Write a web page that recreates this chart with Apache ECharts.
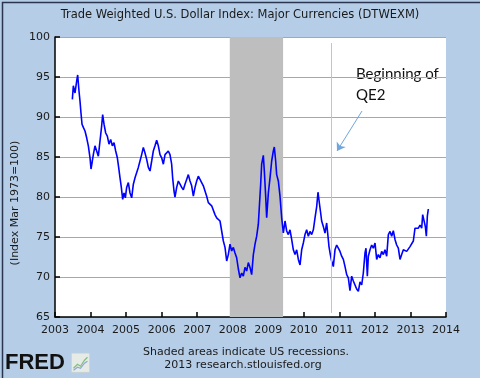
<!DOCTYPE html>
<html>
<head>
<meta charset="utf-8">
<script src="https://cdn.jsdelivr.net/npm/echarts@6/dist/echarts.min.js"></script>
<style>
html,body{margin:0;padding:0;background:#b5cde6;}
#chart{width:480px;height:378px;}
</style>
</head>
<body>
<div id="chart"></div>
<script>
// Decimal years and index values
var dates = [
2003.488,2003.516,2003.563,2003.610,2003.638,2003.675,2003.703,2003.731,2003.760,2003.797,2003.844,2003.891,2003.938,2003.985,
2004.013,2004.050,2004.078,2004.125,2004.172,2004.219,2004.266,2004.313,2004.341,2004.379,2004.426,2004.472,2004.519,2004.566,2004.613,2004.660,2004.707,2004.754,2004.791,2004.829,2004.866,2004.904,2004.941,2004.979,
2005.016,2005.063,2005.110,2005.157,2005.204,2005.251,2005.298,2005.344,2005.391,2005.438,2005.485,2005.532,2005.579,2005.626,2005.673,2005.720,2005.766,2005.813,2005.860,2005.907,2005.954,
2006.001,2006.048,2006.095,2006.142,2006.188,2006.235,2006.282,2006.310,2006.348,2006.376,2006.423,2006.470,2006.517,2006.564,2006.610,2006.657,2006.704,2006.751,2006.798,2006.845,2006.892,2006.939,2006.986,
2007.032,2007.079,2007.126,2007.173,2007.220,2007.267,2007.314,2007.361,2007.408,2007.454,2007.501,2007.548,2007.595,2007.642,2007.689,2007.736,2007.783,2007.830,2007.876,2007.923,2007.970,
2008.017,2008.064,2008.111,2008.158,2008.205,2008.252,2008.298,2008.345,2008.392,2008.439,2008.486,2008.533,2008.580,2008.627,2008.674,2008.720,2008.748,2008.786,2008.814,2008.861,2008.889,2008.927,2008.955,
2009.002,2009.049,2009.096,2009.142,2009.170,2009.208,2009.236,2009.283,2009.330,2009.377,2009.424,2009.471,2009.518,2009.564,2009.611,2009.658,2009.705,2009.752,2009.799,2009.846,2009.893,2009.940,2009.986,
2010.033,2010.080,2010.127,2010.174,2010.221,2010.268,2010.315,2010.362,2010.399,2010.437,2010.474,2010.502,2010.549,2010.596,2010.643,2010.671,2010.708,2010.746,2010.783,2010.830,2010.877,2010.924,2010.971,
2011.018,2011.065,2011.112,2011.159,2011.206,2011.252,2011.299,2011.346,2011.393,2011.440,2011.487,2011.534,2011.581,2011.628,2011.674,2011.721,2011.749,2011.787,2011.815,2011.862,2011.909,2011.956,
2012.003,2012.050,2012.096,2012.143,2012.190,2012.237,2012.284,2012.331,2012.378,2012.425,2012.472,2012.518,2012.565,2012.612,2012.659,2012.706,2012.753,2012.800,2012.847,2012.894,2012.940,2012.987,
2013.034,2013.081,2013.128,2013.175,2013.222,2013.269,2013.316,2013.344,2013.381,2013.419,2013.447,2013.475,2013.503
];
var values = [
92.2,93.9,93.0,94.5,95.25,93.25,92.0,90.5,89.1,88.7,88.25,87.4,86.4,84.9,
83.5,84.5,85.3,86.4,85.75,85.1,87.0,88.9,90.3,89.1,88.0,87.6,86.6,87.2,86.4,86.8,85.75,84.9,83.7,82.4,81.2,79.7,80.5,79.9,
81.2,81.8,80.5,79.9,81.6,82.4,82.2,83.7,84.5,85.3,86.2,85.5,84.7,83.7,83.25,84.5,85.75,86.4,87.1,86.4,85.3,
84.9,84.1,85.3,85.5,85.75,85.3,84.1,82.4,80.75,80.0,81.2,82.0,81.6,81.2,80.9,81.6,82.2,82.8,82.0,81.4,80.1,81.2,82.0,
82.6,82.4,81.8,81.4,80.75,80.1,79.3,79.1,78.9,79.1,77.8,77.4,77.6,77.0,75.75,74.5,73.7,72.0,72.8,74.1,73.25,
73.7,73.0,72.4,71.0,69.9,70.5,70.1,71.2,70.75,71.8,71.2,70.3,72.8,74.1,75.1,76.6,78.7,81.6,84.1,85.2,83.25,80.1,77.4,
80.5,82.4,84.5,85.75,86.25,84.5,82.8,82.0,80.1,77.4,75.5,77.0,75.75,75.3,75.9,74.7,73.4,72.8,73.4,72.2,71.5,73.4,74.25,
75.3,75.9,75.1,75.7,75.3,75.9,77.4,78.8,80.6,79.25,78.0,77.0,76.3,75.5,76.75,75.5,73.8,72.8,72.0,71.3,73.4,74.0,73.6,
73.2,72.6,72.2,71.3,70.3,69.9,68.3,70.1,69.5,69.7,68.5,68.2,69.4,69.0,70.5,73.0,73.6,70.1,72.6,73.4,74.0,73.6,
74.25,72.2,72.8,72.4,73.2,72.8,73.4,72.6,75.3,75.7,75.1,75.8,74.7,74.0,73.6,72.2,72.8,73.4,73.6,73.2,73.4,73.8,
73.6,74.5,76.1,76.3,76.1,76.5,76.1,77.8,78.0,76.3,75.1,77.6,78.5
];
var yearTicks = [2003,2004,2005,2006,2007,2008,2009,2010,2011,2012,2013,2014];
var recession = [2007.917, 2009.417];
var qe2Date = 2010.76;
var arrowFrom = [2011.637, 90.75];
var arrowTo = [2010.934, 85.75];

var seriesData = dates.map(function(d, i){ return [d, values[i]]; });

var chart = echarts.init(document.getElementById('chart'), null, {renderer:'canvas'});
var txt = '#1a1a1a';
var font = 'DejaVu Sans';
chart.setOption({
  animation: false,
  backgroundColor: '#b5cde6',
  title: {
    text: 'Trade Weighted U.S. Dollar Index: Major Currencies (DTWEXM)',
    left: 'center', top: 4,
    textStyle: {fontFamily: font, fontSize: 11.5, fontWeight: 'normal', color: txt}
  },
  grid: {left: 55, right: 34, top: 37, bottom: 61, show: true, backgroundColor: '#ffffff', borderWidth: 0},
  xAxis: {
    type: 'value', min: 2003, max: 2014, interval: 1,
    axisLine: {show: true, onZero: false, lineStyle: {color: '#000', width: 1.5}},
    axisTick: {show: true, inside: true, length: 5, lineStyle: {color: '#000', width: 1.5}},
    axisLabel: {fontFamily: font, fontSize: 11, color: txt, margin: 8, formatter: function(v){ return String(v); }},
    splitLine: {show: false}
  },
  yAxis: {
    type: 'value', min: 65, max: 100, interval: 5,
    axisLine: {show: true, lineStyle: {color: '#000', width: 1.5}},
    axisTick: {show: true, inside: true, length: 5, lineStyle: {color: '#000', width: 1.5}},
    axisLabel: {fontFamily: font, fontSize: 11, color: txt, margin: 5},
    splitLine: {show: true, lineStyle: {color: '#a8a8a8', width: 1}}
  },
  series: [
    {
      name: 'recession', type: 'line', data: [], z: 1, silent: true,
      markArea: {
        silent: true,
        itemStyle: {color: '#bebebe'},
        data: [[{xAxis: recession[0]}, {xAxis: recession[1]}]]
      }
    },
    {
      name: 'DTWEXM', type: 'line', data: seriesData, z: 3,
      showSymbol: false, symbol: 'none', smooth: false,
      lineStyle: {color: '#0000ff', width: 1.6}
    },
    {
      name: 'qe2', type: 'line', data: [], z: 4, silent: true,
      markLine: {
        silent: true, symbol: ['none', 'none'],
        label: {show: false},
        lineStyle: {color: '#a6cbee', width: 1, type: 'solid'},
        data: [
          [{coord: [qe2Date, 99.25]}, {coord: [qe2Date, 65.5]}]
        ]
      }
    },
    {
      name: 'arrow', type: 'line', data: [], z: 4, silent: true,
      markLine: {
        silent: true, symbol: ['none', 'arrow'], symbolSize: 8,
        label: {show: false},
        lineStyle: {color: '#6fa6dc', width: 1, type: 'solid'},
        data: [
          [{coord: arrowFrom}, {coord: arrowTo}]
        ]
      }
    }
  ],
  graphic: [
    {type: 'rect', left: 0, top: 0, shape: {x: 0.5, y: 0.5, width: 479, height: 377},
     style: {fill: 'none', stroke: '#2a3550', lineWidth: 1.5}, silent: true, z: 100},
    {type: 'text', left: 356, top: 67,
     style: {text: 'Beginning of', font: '15px Lato', fill: '#111'}},
    {type: 'text', left: 356, top: 88,
     style: {text: 'QE2', font: '15px Lato', fill: '#111'}},
    {type: 'text', x: 15, y: 203, rotation: Math.PI / 2,
     style: {text: '(Index Mar 1973=100)', font: '11px "DejaVu Sans"', fill: txt, textAlign: 'center', textVerticalAlign: 'middle'}},
    {type: 'text', x: 246, y: 352,
     style: {text: 'Shaded areas indicate US recessions.', font: '11px "DejaVu Sans"', fill: txt, textAlign: 'center', textVerticalAlign: 'middle'}},
    {type: 'text', x: 243, y: 365,
     style: {text: '2013 research.stlouisfed.org', font: '11px "DejaVu Sans"', fill: txt, textAlign: 'center', textVerticalAlign: 'middle'}},
    {type: 'text', x: 5, y: 363,
     style: {text: 'FRED', font: 'bold 22px "Liberation Sans"', fill: '#111', textVerticalAlign: 'middle'}},
    {type: 'group', left: 71, top: 353, children: [
      {type: 'rect', shape: {x: 0, y: 0, width: 18, height: 19}, style: {fill: '#e6ebe6', stroke: '#c8d0c8', lineWidth: 0.5}},
      {type: 'polyline', shape: {points: [[2,15],[6,11],[9,13],[13,7],[16,4]]}, style: {stroke: '#7fbf7f', lineWidth: 1.2, fill: 'none'}},
      {type: 'polyline', shape: {points: [[2,17],[6,14],[9,15],[13,10],[16,8]]}, style: {stroke: '#8fa8d8', lineWidth: 1.2, fill: 'none'}}
    ]}
  ]
});
</script>
</body>
</html>
